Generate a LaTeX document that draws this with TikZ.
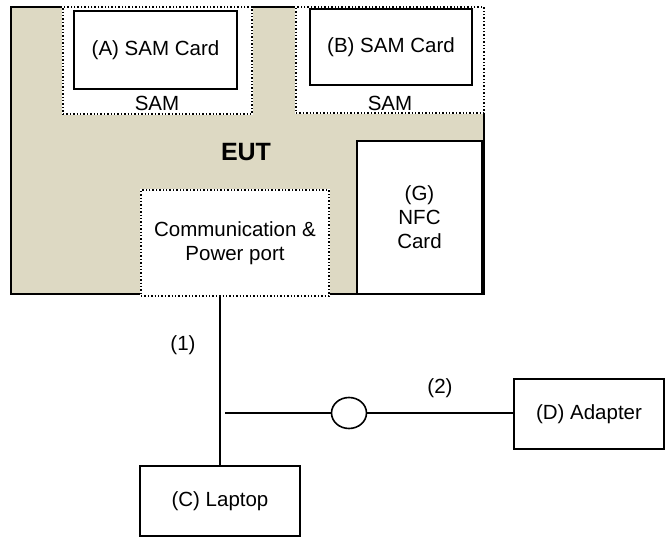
\documentclass[tikz,border=0pt]{standalone}
\usepackage{fontspec}
\setmainfont{Liberation Sans}
\usepackage{tikz}
\usetikzlibrary{shapes.geometric, positioning}
\definecolor{eutbg}{HTML}{DDD9C3}

\begin{document}
\begin{tikzpicture}[x=1pt, y=-1pt, font=\fontsize{20.5}{24}\selectfont,
    card/.style={draw, line width=1.8pt, fill=white, inner sep=0pt, align=center},
    slot/.style={draw, dotted, line width=1.4pt, fill=white, inner sep=0pt, align=center,
        preaction={draw=white, solid, line width=2.6pt}},
    wire/.style={line width=1.3pt},
    lbl/.style={inner sep=0pt}]
    \useasboundingbox (0,0) rectangle (665,537);
    \node[draw, line width=1.8pt, fill=eutbg, minimum width=473pt, minimum height=287pt] (eut) at (247.5,150.5) {};
    \node[lbl, font=\fontsize{25}{28}\selectfont\bfseries] (eutlbl) at (246,152) {EUT};
    \node[slot, minimum width=189pt, minimum height=107pt] (sama) at (157.5,60.5) {};
    \node[card, minimum width=163pt, minimum height=78pt] (carda) at (155.5,50) {(A) SAM Card};
    \node[lbl] (samalbl) at (157,103) {SAM};
    \node[slot, minimum width=188pt, minimum height=106pt] (samb) at (390,60) {};
    \node[card, minimum width=162pt, minimum height=76pt] (cardb) at (391,47) {(B) SAM Card};
    \node[lbl] (samblbl) at (390,103) {SAM};
    \node[card, minimum width=125pt, minimum height=153pt] (nfc) at (419.5,217.5) {(G)\\NFC\\Card};
    \node[slot, minimum width=188pt, minimum height=106pt] (port) at (235,243) {Communication \&\\Power port};
    \node[card, minimum width=160pt, minimum height=70pt] (laptop) at (220,501) {(C) Laptop};
    \node[card, minimum width=150pt, minimum height=70pt] (adapter) at (589,414) {(D) Adapter};
    \node[ellipse, draw, line width=1.6pt, minimum width=35pt, minimum height=31pt, inner sep=0pt] (plug) at (349,413) {};
    \coordinate (tap) at (225,413);
    \node[lbl] (c1) at (183,345) {(1)};
    \node[lbl] (c2) at (440,388) {(2)};
    \draw[wire] (laptop.north |- port.south) -- (laptop.north);
    \draw[wire] (tap) -- (plug.west);
    \draw[wire] (plug.east) -- (plug.east -| adapter.west);
\end{tikzpicture}
\end{document}
